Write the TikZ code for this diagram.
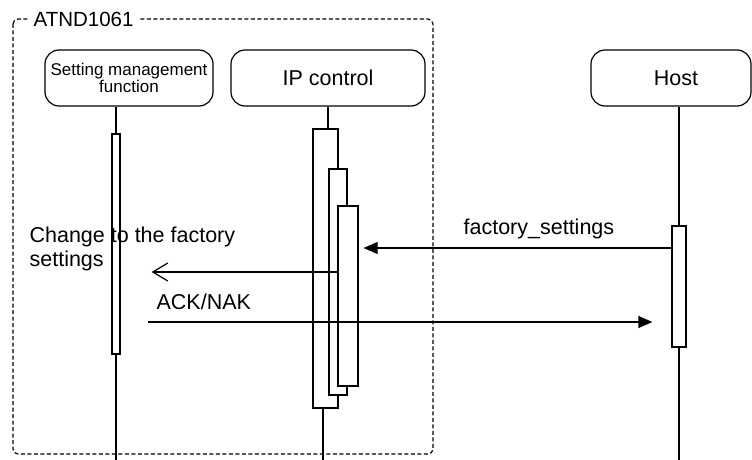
\documentclass[tikz,border=0pt]{standalone}
\usepackage{fontspec}
\setmainfont{Liberation Sans}
\usetikzlibrary{arrows.meta}
\begin{document}
\begin{tikzpicture}[x=1pt,y=-1pt,line width=1.2pt,
  lifebox/.style={draw,rounded corners=14pt,minimum height=56pt,inner sep=0pt,align=center},
  actbar/.style={draw,fill=white,inner sep=0pt},
  msglabel/.style={anchor=base west,inner sep=0pt,font=\fontsize{21.5}{24}\selectfont,align=left},
  syncarrow/.style={-{Triangle[length=14pt,width=12pt]}},
  asyncarrow/.style={-{Straight Barb[length=15pt,width=18pt,line width=1.2pt]}},
  frameline/.style={draw,dash pattern=on 4pt off 2.5pt,rounded corners=5pt}]
\useasboundingbox (0,0) rectangle (752,460);
% frame
\draw[frameline] (13,19) rectangle (433,454);
\node[fill=white,inner xsep=5pt,inner ysep=1pt,anchor=west] (frm) at (28,19) {\fontsize{20.5}{22}\selectfont ATND1061};
% lifeline heads
\node[lifebox,minimum width=168pt] (smf) at (129,78) {\fontsize{17}{16.5}\selectfont Setting management\\\fontsize{17}{16.5}\selectfont function};
\node[lifebox,minimum width=194pt] (ip) at (328,78) {\fontsize{21.5}{24}\selectfont IP control};
\node[lifebox,minimum width=160pt] (host) at (671,78) {\hspace*{10pt}\fontsize{21.5}{24}\selectfont Host};
% bottom ends
\coordinate (smfend) at (116,460);
\coordinate (ipend) at (323,460);
\coordinate (hostend) at (679,460);
% activation bars
\node[actbar,minimum width=8pt,minimum height=220pt] (a1) at (116,244) {};
\node[actbar,minimum width=25pt,minimum height=279pt] (ipo) at (325.5,268.5) {};
\node[actbar,minimum width=18pt,minimum height=226pt] (ipm) at (338,282) {};
\node[actbar,minimum width=20pt,minimum height=180pt] (ipi) at (348,296) {};
\node[actbar,minimum width=14pt,minimum height=121pt] (h1) at (679,286.5) {};
% lifelines
\draw (a1.north |- smf.south) -- (a1.north);
\draw (a1.south) -- (smfend);
\draw (ip.south) -- (ip.south |- ipo.north);
\draw (ipo.south -| ipend) -- (ipend);
\draw (h1.north |- host.south) -- (h1.north);
\draw (h1.south) -- (hostend);
% messages
\draw[syncarrow,shorten >=5pt] (h1.west |- 0,248) -- (ipi.east |- 0,248);
\node[msglabel] (l1) at (463,234) {factory\_settings};
\draw[asyncarrow,shorten >=31pt] (ipi.west |- 0,272) -- (a1.east |- 0,272);
\node[msglabel] (l2) at (29,266.5) {Change to the factory\\settings};
\draw[syncarrow,shorten <=27pt,shorten >=19pt] (a1.east |- 0,322) -- (h1.west |- 0,322);
\node[msglabel] (l3) at (156,309) {ACK/NAK};
\end{tikzpicture}
\end{document}
